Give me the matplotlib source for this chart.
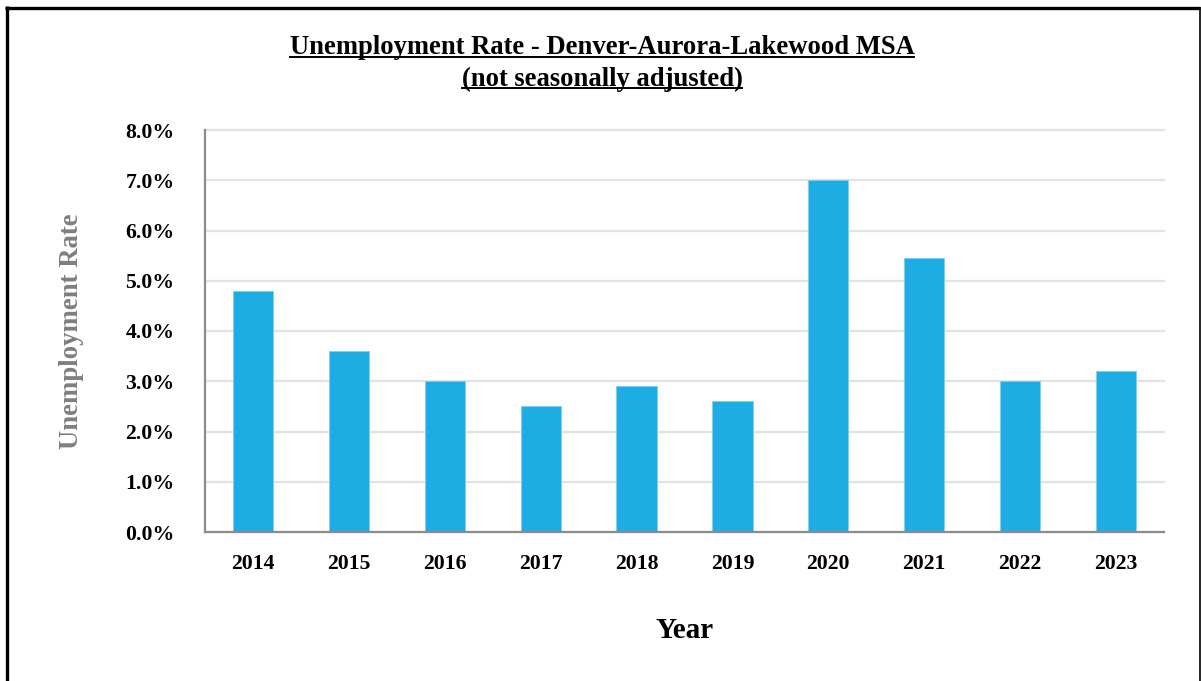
import matplotlib
matplotlib.use("Agg")
import matplotlib.pyplot as plt
from matplotlib.lines import Line2D
from matplotlib.ticker import FuncFormatter

years = ["2014", "2015", "2016", "2017", "2018", "2019", "2020", "2021", "2022", "2023"]
rates = [4.8, 3.6, 3.0, 2.5, 2.9, 2.6, 7.0, 5.45, 3.0, 3.2]
yticks = [0, 1, 2, 3, 4, 5, 6, 7, 8]

W, H = 1201, 681
plt.rcParams["font.family"] = ["Liberation Serif", "DejaVu Serif"]
plt.rcParams["font.weight"] = "bold"

fig = plt.figure(figsize=(W / 100, H / 100), dpi=100)
ax = fig.add_axes([205 / W, 1 - 532 / H, (1164 - 205) / W, (532 - 130) / H])

x = list(range(len(years)))
ax.bar(x, rates, width=0.42, color="#1eade3", edgecolor="#7fd0f0", linewidth=0.6, zorder=3)

ax.set_xlim(-0.5, len(years) - 0.5)
ax.set_ylim(0, 8)
ax.set_yticks(yticks)
ax.yaxis.set_major_formatter(FuncFormatter(lambda v, p: f"{v:.1f}%"))
ax.set_xticks(x)
ax.set_xticklabels(years)
ax.tick_params(axis="both", length=0, labelsize=15.7, colors="black")
ax.tick_params(axis="x", pad=15.5)
ax.tick_params(axis="y", pad=22)
ax.grid(axis="y", color="#e3e3e3", linewidth=1.6, zorder=0)
for gl in ax.get_ygridlines():
    gl.set_clip_on(False)
ax.set_axisbelow(True)
for s in ["top", "right"]:
    ax.spines[s].set_visible(False)
for s in ["left", "bottom"]:
    ax.spines[s].set_color("#8c8c8c")
    ax.spines[s].set_linewidth(1.6)
    ax.spines[s].set_zorder(4)

ax.set_ylabel("Unemployment Rate", fontsize=19.3, color="#7f7f7f", fontweight="bold")
ax.yaxis.set_label_coords((72 - 205) / (1164 - 205), 0.5)
ax.set_xlabel("Year", fontsize=21, fontweight="bold")
ax.xaxis.set_label_coords(0.5, -(631 - 532) / (532 - 130))
ax.xaxis.label.set_va("center")
ax.yaxis.label.set_va("center")

# underlined two-line title
t1 = fig.text(602 / W, 1 - 48 / H, "Unemployment Rate - Denver-Aurora-Lakewood MSA",
              ha="center", va="center", fontsize=19.2, fontweight="bold")
t2 = fig.text(602 / W, 1 - 79 / H, "(not seasonally adjusted)",
              ha="center", va="center", fontsize=19.2, fontweight="bold")
fig.canvas.draw()
r = fig.canvas.get_renderer()
for t in (t1, t2):
    bb = t.get_window_extent(r)
    yline = bb.y0 + 3.5
    fig.add_artist(Line2D([bb.x0 / W, bb.x1 / W], [yline / H, yline / H],
                          transform=fig.transFigure, color="black", linewidth=1.4))

# frame around the figure
fig.add_artist(Line2D([6.5 / W, 6.5 / W], [0, 1 - 6 / H], transform=fig.transFigure,
                      color="black", linewidth=2.4, solid_capstyle="butt"))
fig.add_artist(Line2D([5 / W, 1200 / W], [1 - 7.5 / H, 1 - 7.5 / H], transform=fig.transFigure,
                      color="black", linewidth=2.4, solid_capstyle="butt"))
fig.add_artist(Line2D([1199.5 / W, 1199.5 / W], [0, 1 - 7 / H], transform=fig.transFigure,
                      color="black", linewidth=1.2, solid_capstyle="butt"))

fig.savefig("out.png", dpi=100)
